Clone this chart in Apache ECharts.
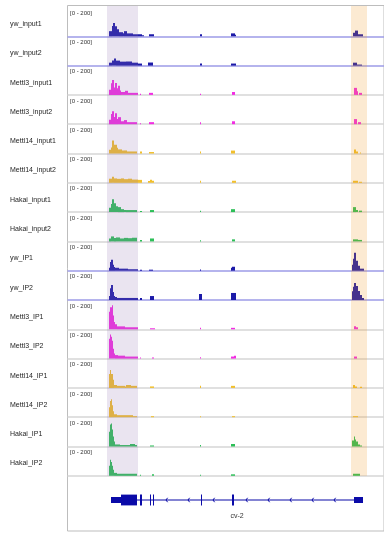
<!DOCTYPE html>
<html><head><meta charset="utf-8">
<script src="https://cdn.jsdelivr.net/npm/echarts@6/dist/echarts.min.js"></script>
<style>html,body{margin:0;padding:0;background:#fff}#c{width:384px;height:533px}</style>
</head><body><div id="c"></div>
<script>
// ---------- data ----------
const trackNames = ['yw_input1','yw_input2','Mettl3_input1','Mettl3_input2','Mettl14_input1','Mettl14_input2',
  'Hakai_input1','Hakai_input2','yw_IP1','yw_IP2','Mettl3_IP1','Mettl3_IP2','Mettl14_IP1','Mettl14_IP2','Hakai_IP1','Hakai_IP2'];
const trackGroups = ['yw','yw','Mettl3','Mettl3','Mettl14','Mettl14','Hakai','Hakai',
  'yw','yw','Mettl3','Mettl3','Mettl14','Mettl14','Hakai','Hakai'];
const rangeLabel = '[0 - 200]';
const yRange = [0, 200];
const posRange = [0, 316];

// coverage bins: [start, end, value]
const yw_input1 = [[41,44,35],[44,45,70],[45,47,90],[47,49,68],[49,51,48],[51,55,28],[55,56,20],[56,59,35],[59,65,20],[65,70,14],[70,74,14],[74,76,7],[81,86,14],[132,134,14],[163,167,20],[167,168,10],[285,287,25],[287,290,39],[290,295,14]];
const yw_input2 = [[41,44,20],[44,46,35],[46,48,48],[48,52,34],[52,58,27],[58,64,28],[64,70,20],[70,74,14],[80,85,21],[132,134,14],[163,168,14],[285,289,20],[289,294,7]];
const Mettl3_input1 = [[41,43,35],[43,44,80],[44,46,102],[46,47,50],[47,49,82],[49,50,45],[50,52,62],[52,53,30],[53,57,20],[57,60,28],[60,70,14],[72,73,7],[81,85,14],[132,133,7],[164,167,20],[286,289,48],[289,290,25],[291,294,14]];
const Mettl3_input2 = [[41,43,30],[43,44,70],[44,46,88],[46,47,50],[47,49,75],[49,50,35],[50,53,48],[53,56,20],[56,59,28],[59,69,14],[72,73,7],[81,86,14],[132,133,14],[164,167,20],[286,289,35],[290,293,14]];
const Mettl14_input1 = [[41,43,25],[43,44,41],[44,46,88],[46,47,60],[47,49,60],[49,50,40],[50,54,28],[54,56,20],[56,59,21],[59,69,14],[72,74,14],[81,86,10],[132,133,14],[163,167,20],[286,288,27],[288,290,14],[292,293,7]];
const Mettl14_input2 = [[41,44,28],[44,46,41],[46,49,30],[49,53,27],[53,56,30],[56,60,25],[60,64,28],[64,70,22],[70,74,20],[80,82,12],[82,84,21],[84,86,14],[132,133,14],[164,168,14],[285,290,14],[291,294,7]];
const Hakai_input1 = [[41,43,30],[43,44,55],[44,46,88],[46,48,60],[48,50,40],[50,53,34],[53,56,20],[56,58,14],[58,69,14],[72,74,7],[82,86,14],[132,133,10],[163,167,20],[285,288,34],[288,290,14],[291,294,10]];
const Hakai_input2 = [[41,43,20],[43,46,34],[46,48,24],[48,52,27],[52,56,20],[56,60,24],[60,64,22],[64,69,25],[72,74,10],[82,86,20],[132,133,7],[164,167,14],[285,290,14],[290,294,10]];
const yw_IP1 = [[41,42,20],[42,43,60],[43,45,75],[45,46,40],[46,47,25],[47,51,20],[51,60,14],[60,70,10],[72,74,7],[81,85,7],[132,133,9],[163,164,20],[164,167,27],[284,285,40],[285,286,82],[286,288,122],[288,290,68],[290,292,34],[292,296,14]];
const yw_IP2 = [[41,42,27],[42,43,80],[43,45,102],[45,46,55],[46,47,28],[47,49,20],[49,70,14],[72,74,14],[82,86,27],[131,134,41],[163,168,48],[284,285,60],[285,286,90],[286,288,116],[288,290,95],[290,292,62],[292,294,34],[294,296,14]];
const Mettl3_IP1 = [[41,42,120],[42,44,150],[44,45,164],[45,46,95],[46,47,50],[47,49,34],[49,52,20],[52,57,20],[57,70,14],[82,87,7],[132,133,10],[163,167,10],[286,288,20],[288,290,14]];
const Mettl3_IP2 = [[41,42,136],[42,43,164],[43,44,150],[44,45,122],[45,46,68],[46,47,34],[47,50,24],[50,57,20],[57,70,14],[72,73,7],[84,86,7],[132,133,10],[163,166,14],[166,168,20],[286,289,14]];
const Mettl14_IP1 = [[41,42,95],[42,43,122],[43,45,95],[45,46,55],[46,49,20],[49,57,14],[57,58,10],[58,63,20],[63,69,14],[82,86,10],[132,133,14],[163,167,14],[285,287,20],[287,289,10],[292,294,7]];
const Mettl14_IP2 = [[41,42,68],[42,43,110],[43,44,122],[44,45,82],[45,46,41],[46,49,20],[49,57,14],[57,65,14],[65,69,7],[83,86,7],[132,133,7],[164,167,7],[285,290,7]];
const Hakai_IP1 = [[41,42,100],[42,43,150],[43,44,157],[44,45,116],[45,46,68],[46,47,34],[47,52,14],[52,62,10],[62,67,17],[67,69,10],[82,86,7],[132,133,10],[163,167,17],[284,286,41],[286,287,68],[287,288,48],[288,290,34],[290,292,14],[292,294,7]];
const Hakai_IP2 = [[41,42,68],[42,43,110],[43,44,95],[44,45,68],[45,46,41],[46,49,20],[49,69,14],[72,73,7],[84,86,10],[132,133,7],[163,167,10],[285,292,14]];

const trackData = [yw_input1,yw_input2,Mettl3_input1,Mettl3_input2,Mettl14_input1,Mettl14_input2,Hakai_input1,Hakai_input2,
  yw_IP1,yw_IP2,Mettl3_IP1,Mettl3_IP2,Mettl14_IP1,Mettl14_IP2,Hakai_IP1,Hakai_IP2];

// regions of interest [start, end]
const regionsOfInterest = [[39,70],[283,299]];

// gene model
const geneName = 'cv-2';
const geneSpan = [[43,295]];
const geneUTR = [[43,53],[286,295]];
const geneExons = [[53,69],[72,74],[82,83],[85,86],[133,134],[164,166]];
const geneArrows = [98,120,145,178,200,222,244,266];

// ---------- styles / layout ----------
const groupColors = {yw:'#1c1aa8', Mettl3:'#f22ee2', Mettl14:'#f1bf2c', Hakai:'#2dbf58'};
const baselineColors = {yw:'#9d9ce8', Mettl3:'#d6d6d6', Mettl14:'#d6d6d6', Hakai:'#d6d6d6'};
const regionColors = ['rgba(150,120,180,0.2)','rgba(240,150,30,0.2)'];
const plotLeft = 68, plotWidth = 316;
const trackTop0 = 7, trackH = 29.3;
const FONT = 'Liberation Sans, Arial, sans-serif';

const grids = [], xAxes = [], yAxes = [], series = [], graphics = [];

// frame grid
grids.push({left:67.5, top:5.5, width:330, height:525.5, show:true, borderColor:'#bdbdbd', borderWidth:1, backgroundColor:'transparent'});
xAxes.push({gridIndex:0, type:'value', show:false, min:0, max:1});
yAxes.push({gridIndex:0, type:'value', show:false, min:0, max:1});

trackNames.forEach((name, i) => {
  const gi = grids.length;
  const top = trackTop0 + i*trackH;
  grids.push({left:plotLeft, width:plotWidth, top:top, height:trackH});
  xAxes.push({gridIndex:gi, type:'value', min:posRange[0], max:posRange[1],
    axisLine:{show:true, onZero:false, lineStyle:{color:baselineColors[trackGroups[i]], width:1.5}},
    axisTick:{show:false}, axisLabel:{show:false}, splitLine:{show:false}});
  yAxes.push({gridIndex:gi, type:'value', min:yRange[0], max:yRange[1], show:false, splitLine:{show:false}});
  const color = groupColors[trackGroups[i]];
  series.push({
    type:'custom', xAxisIndex:gi, yAxisIndex:gi, z:3, silent:true,
    encode:{x:[0,1], y:2},
    data: trackData[i],
    renderItem:(params, api) => {
      const p0 = api.coord([api.value(0), api.value(2)]);
      const p1 = api.coord([api.value(1), 0]);
      return {type:'rect', shape:{x:p0[0], y:p0[1], width:Math.max(1,p1[0]-p0[0]), height:p1[1]-p0[1]}, style:{fill:color}};
    }
  });
  graphics.push({type:'text', x:10, y:top+17, silent:true,
    style:{text:name, fill:'#1e1e1e', font:'7px '+FONT, align:'left', verticalAlign:'middle'}});
  graphics.push({type:'text', x:70, y:top+6, silent:true,
    style:{text:rangeLabel, fill:'#333', font:'6px '+FONT, align:'left', verticalAlign:'middle'}});
});

// region-of-interest overlay grid
{
  const gi = grids.length;
  grids.push({left:plotLeft, width:plotWidth, top:6, height:trackTop0 + trackNames.length*trackH - 6});
  xAxes.push({gridIndex:gi, type:'value', min:posRange[0], max:posRange[1], show:false});
  yAxes.push({gridIndex:gi, type:'value', min:0, max:1, show:false});
  series.push({
    type:'custom', xAxisIndex:gi, yAxisIndex:gi, z:10, silent:true,
    encode:{x:[0,1]},
    data: regionsOfInterest,
    renderItem:(params, api) => {
      const p0 = api.coord([api.value(0), 1]);
      const p1 = api.coord([api.value(1), 0]);
      return {type:'rect', shape:{x:p0[0], y:p0[1], width:p1[0]-p0[0], height:p1[1]-p0[1]}, style:{fill:regionColors[params.dataIndex]}};
    }
  });
}

// gene track
{
  const gi = grids.length;
  const geneColor = '#0a0aa8';
  grids.push({left:plotLeft, width:plotWidth, top:478, height:44});
  xAxes.push({gridIndex:gi, type:'value', min:posRange[0], max:posRange[1], show:false});
  yAxes.push({gridIndex:gi, type:'value', min:0, max:1, show:false});
  const blockSeries = (data, half, z) => ({
    type:'custom', xAxisIndex:gi, yAxisIndex:gi, z:z, silent:true, encode:{x:[0,1]}, data:data,
    renderItem:(params, api) => {
      const p0 = api.coord([api.value(0), 0.5]);
      const p1 = api.coord([api.value(1), 0.5]);
      return {type:'rect', shape:{x:p0[0], y:p0[1]-half, width:Math.max(1,p1[0]-p0[0]), height:half*2}, style:{fill:geneColor}};
    }
  });
  series.push(blockSeries(geneSpan, 0.5, 3));
  series.push(blockSeries(geneUTR, 3, 4));
  series.push(blockSeries(geneExons, 5.4, 5));
  series.push({
    type:'custom', xAxisIndex:gi, yAxisIndex:gi, z:4, silent:true, encode:{x:0},
    data: geneArrows.map(v => [v]),
    renderItem:(params, api) => {
      const p = api.coord([api.value(0), 0.5]);
      return {type:'polyline', shape:{points:[[p[0]+1.6,p[1]-2.2],[p[0],p[1]],[p[0]+1.6,p[1]+2.2]]}, style:{stroke:geneColor, lineWidth:1, fill:null}};
    }
  });
  series.push({
    type:'custom', xAxisIndex:gi, yAxisIndex:gi, z:4, silent:true, encode:{x:[0,1]},
    data: geneSpan,
    renderItem:(params, api) => {
      const p = api.coord([(api.value(0)+api.value(1))/2, 0.5]);
      return {type:'text', x:p[0], y:p[1]+16, style:{text:geneName, fill:'#333', font:'7px '+FONT, align:'center', verticalAlign:'middle'}};
    }
  });
}

const chart = echarts.init(document.getElementById('c'), null, {renderer:'canvas'});
chart.setOption({
  animation:false,
  backgroundColor:'#fff',
  grid:grids, xAxis:xAxes, yAxis:yAxes, series:series, graphic:graphics
});
</script></body></html>
